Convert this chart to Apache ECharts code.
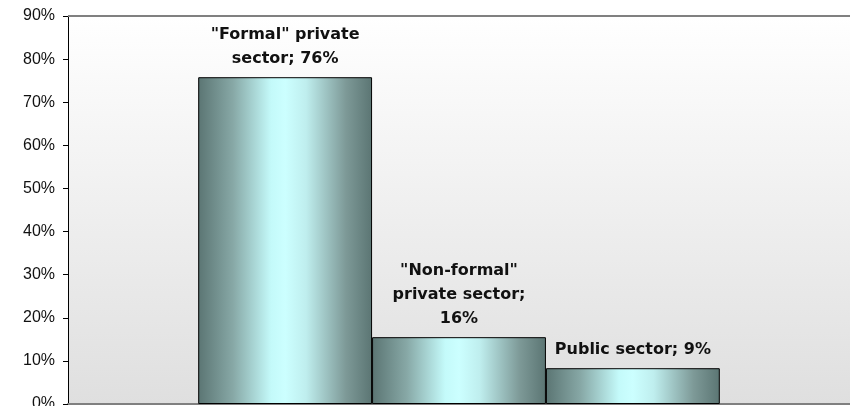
<!DOCTYPE html>
<html>
<head>
<meta charset="utf-8">
<script src="https://cdn.jsdelivr.net/npm/echarts@6/dist/echarts.min.js"></script>
<style>
html,body{margin:0;padding:0;background:#fff;}
#c{width:850px;height:406px;}
</style>
</head>
<body>
<div id="c"></div>
<script>
const seriesNames = ['"Formal" private sector', '"Non-formal" private sector', 'Public sector'];
const seriesValues = [75.8, 15.5, 8.3];
const seriesLabels = ['"Formal" private\nsector; 76%', '"Non-formal"\nprivate sector;\n16%', 'Public sector; 9%'];
const yTicks = [0, 10, 20, 30, 40, 50, 60, 70, 80, 90];

const barColor = {
  type: 'linear', x: 0, y: 0, x2: 1, y2: 0,
  colorStops: [
    {offset: 0, color: '#5b7573'},
    {offset: 0.2, color: '#87a8a6'},
    {offset: 0.42, color: '#c4fafa'},
    {offset: 0.5, color: '#ccffff'},
    {offset: 0.62, color: '#bfeeee'},
    {offset: 0.85, color: '#7d9997'},
    {offset: 1, color: '#5b7573'}
  ]
};

const chart = echarts.init(document.getElementById('c'), null, {renderer: 'canvas'});
chart.setOption({
  animation: false,
  grid: {
    left: 68, right: 0, top: 16, bottom: 2,
    containLabel: false,
    outerBoundsMode: 'none',
    show: true,
    backgroundColor: {
      type: 'linear', x: 0, y: 0, x2: 0, y2: 1,
      colorStops: [{offset: 0, color: '#ffffff'}, {offset: 1, color: '#dfdfdf'}]
    },
    borderWidth: 0
  },
  xAxis: {
    type: 'category',
    data: [''],
    axisLine: {show: true, lineStyle: {color: '#808080', width: 2}},
    axisTick: {show: false},
    axisLabel: {show: false}
  },
  yAxis: {
    type: 'value',
    min: yTicks[0], max: yTicks[yTicks.length - 1], interval: 10,
    axisLine: {show: true, lineStyle: {color: '#000', width: 1}},
    axisTick: {show: true, length: 5, inside: false, lineStyle: {color: '#000'}},
    splitLine: {show: false},
    axisLabel: {
      formatter: v => v + '%',
      color: '#111', fontFamily: 'Liberation Sans, Arial', fontSize: 16, margin: 13
    }
  },
  series: seriesNames.map((name, i) => ({
    name: name,
    type: 'bar',
    data: [seriesValues[i]],
    barGap: '0%',
    barCategoryGap: '33.3%',
    itemStyle: {color: barColor, borderColor: '#000', borderWidth: 1},
    label: {
      show: true, position: 'top', distance: 6,
      formatter: seriesLabels[i],
      color: '#111', fontFamily: 'DejaVu Sans', fontWeight: 'bold',
      fontSize: 16, lineHeight: 24, align: 'center'
    },
    markLine: i === 0 ? {
      silent: true, symbol: 'none', label: {show: false},
      lineStyle: {color: '#808080', width: 2, type: 'solid'},
      data: [{yAxis: yTicks[yTicks.length - 1]}]
    } : undefined
  }))
});
</script>
</body>
</html>
